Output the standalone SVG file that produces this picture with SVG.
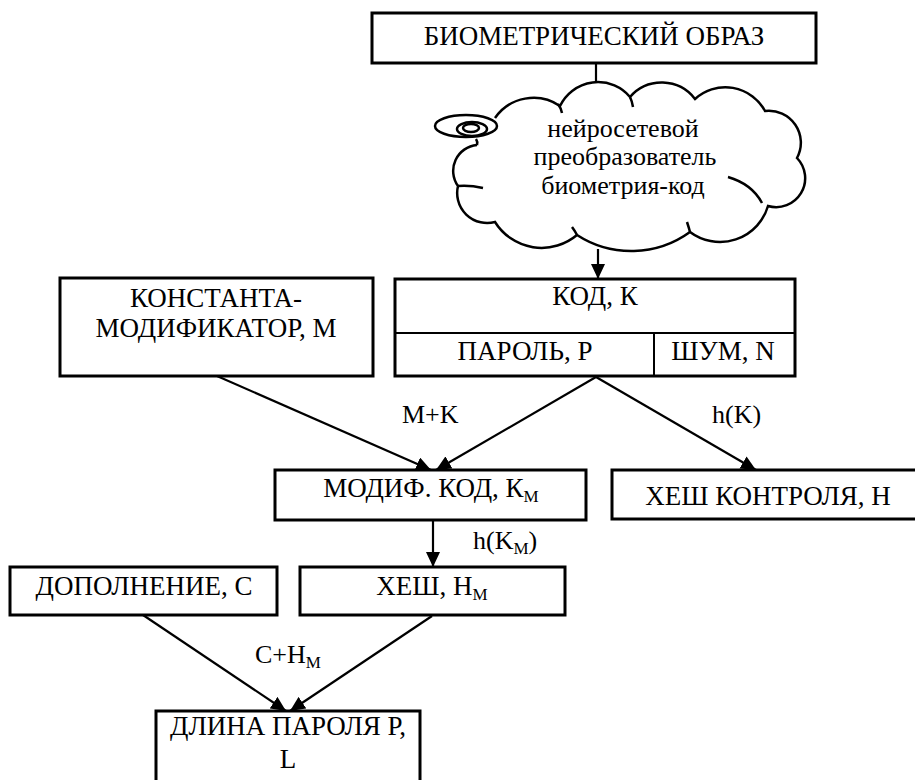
<svg xmlns="http://www.w3.org/2000/svg" width="915" height="780" viewBox="0 0 915 780" font-family="'Liberation Serif', 'Times New Roman', serif">
<defs>
<marker id="ah" markerUnits="userSpaceOnUse" markerWidth="16" markerHeight="14" refX="15" refY="7" orient="auto">
<path d="M0,0 L15,7 L0,14 Z" fill="#000"/>
</marker>
<style>
.box{fill:#fff;stroke:#000;stroke-width:3}
.thin{stroke:#000;stroke-width:2;fill:none}
.con{stroke:#000;stroke-width:2.2;fill:none}
.arr{stroke:#000;stroke-width:2.2;fill:none;marker-end:url(#ah)}
.t{font-family:'Liberation Serif','Times New Roman',serif;font-size:27px;fill:#000}
.l{font-family:'Liberation Serif','Times New Roman',serif;font-size:26px;fill:#000}
.c{text-anchor:middle}
.sub{font-size:17px}
.cl{stroke:#000;stroke-width:2.5;fill:#fff}
.hk{stroke:#000;stroke-width:2.5;fill:none}
</style>
</defs>
<rect width="915" height="780" fill="#fff"/>

<g id="connectors">
<line class="con" x1="596" y1="63" x2="596" y2="92"/>
<line class="arr" x1="598" y1="249" x2="598" y2="279"/>
<line class="arr" x1="217" y1="376" x2="431" y2="470"/>
<line class="arr" x1="596" y1="377" x2="436" y2="470"/>
<line class="arr" x1="596" y1="377" x2="756" y2="470"/>
<line class="arr" x1="433" y1="520" x2="433" y2="567"/>
<line class="arr" x1="143" y1="615" x2="286" y2="711"/>
<line class="arr" x1="432" y1="616" x2="290" y2="711"/>
<text class="l" x="402" y="423">M+K</text>
<text class="l" x="712" y="423">h(K)</text>
<text class="l" x="473" y="549">h(K<tspan class="sub" dy="5">M</tspan><tspan dy="-5">)</tspan></text>
<text class="l" x="255" y="663">C+H<tspan class="sub" dy="5">M</tspan></text>
</g>

<g id="bio">
<rect class="box" x="372" y="13" width="444" height="50"/>
<text class="t c" x="594" y="45">БИОМЕТРИЧЕСКИЙ ОБРАЗ</text>
</g>

<g id="cloud">
<path class="cl" d="M495,118 A47,47 0 0 1 560,106 A42,42 0 0 1 630,97 A42,42 0 0 1 695,99 A45,45 0 0 1 765,111 A32,32 0 0 1 797,158 A29,29 0 0 1 768,206 A50,50 0 0 1 690,232 A100,100 0 0 1 577,235 A55,55 0 0 1 495,222 A30,30 0 0 1 458,186 A26,26 0 0 1 477,145"/>
<path class="hk" d="M558,104 Q561,108 562,113"/>
<path class="hk" d="M630,97 Q632,101 633,107"/>
<path class="hk" d="M728,177 Q752,184 762,203"/>
<path class="hk" d="M690,232 Q689,228 687,222"/>
<path class="hk" d="M577,235 Q575,231 572,227"/>
<path class="hk" d="M458,186 Q470,185 483,188"/>
<path class="hk" d="M477,145 Q478,142 476,139"/>
<ellipse class="hk" cx="466" cy="126" rx="31" ry="11"/>
<ellipse class="hk" cx="472" cy="129" rx="15" ry="7"/>
<ellipse class="hk" cx="471" cy="128" rx="8" ry="4"/>
<text class="l c" x="623" y="137">нейросетевой</text>
<text class="l c" x="625" y="165">преобразователь</text>
<text class="l c" x="623" y="194">биометрия-код</text>
</g>

<g id="const">
<rect class="box" x="60" y="278" width="313" height="98"/>
<text class="t c" x="216" y="307">КОНСТАНТА-</text>
<text class="t c" x="216" y="337">МОДИФИКАТОР, М</text>
</g>

<g id="code">
<rect class="box" x="395" y="279" width="400" height="97"/>
<line class="thin" x1="395" y1="333" x2="795" y2="333"/>
<line class="thin" x1="654" y1="333" x2="654" y2="376"/>
<text class="t c" x="595" y="305">КОД, К</text>
<text class="t c" x="525" y="360">ПАРОЛЬ, Р</text>
<text class="t c" x="723" y="360">ШУМ, N</text>
</g>

<g id="modcode">
<rect class="box" x="275" y="470" width="311" height="50"/>
<text class="t c" x="431" y="497">МОДИФ. КОД, К<tspan class="sub" dy="5">М</tspan></text>
</g>

<g id="hashctrl">
<rect class="box" x="612" y="470" width="312" height="49"/>
<text class="t c" x="768" y="505">ХЕШ КОНТРОЛЯ, Н</text>
</g>

<g id="addition">
<rect class="box" x="10" y="567" width="267" height="48"/>
<text class="t c" x="144" y="595">ДОПОЛНЕНИЕ, С</text>
</g>

<g id="hash">
<rect class="box" x="300" y="567" width="265" height="48"/>
<text class="t c" x="432" y="595">ХЕШ, Н<tspan class="sub" dy="5">М</tspan></text>
</g>

<g id="length">
<rect class="box" x="156" y="711" width="264" height="90"/>
<text class="t c" x="288" y="735">ДЛИНА ПАРОЛЯ Р,</text>
<text class="t c" x="288" y="768">L</text>
</g>
</svg>
